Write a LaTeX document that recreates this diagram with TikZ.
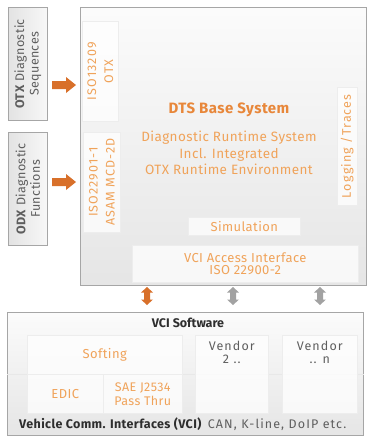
\documentclass[tikz,border=0pt]{standalone}
\usepackage{fontspec}
\setmainfont{Fira Sans}
\newfontfamily\trackfont[LetterSpace=3]{Fira Sans}
\newfontfamily\widefont[LetterSpace=9]{Fira Sans}
\usetikzlibrary{shadows,calc}

\definecolor{softorange}{HTML}{F0A35A}
\definecolor{titleorange}{HTML}{E8873A}
\definecolor{arroworange}{HTML}{D8702A}
\definecolor{arrowgray}{HTML}{A2A2A2}
\definecolor{framegray}{HTML}{A6A6A6}
\definecolor{textgray}{HTML}{5E5E5E}
\definecolor{darktext}{HTML}{2E2E2E}

\tikzset{
  panel/.style={draw=framegray, line width=0.7pt, inner sep=0pt,
    top color=gray!3, bottom color=gray!20,
    drop shadow={shadow xshift=0.8pt, shadow yshift=-1pt, opacity=0.25}},
  sidebox/.style={draw=framegray, line width=0.7pt, inner sep=0pt,
    left color=gray!22, right color=gray!6,
    drop shadow={shadow xshift=0.8pt, shadow yshift=-1pt, opacity=0.25}},
  inset/.style={fill=white, fill opacity=0.75, draw=gray!14, line width=0.5pt,
    inner sep=0pt, text opacity=1},
  orangetext/.style={text=softorange, font=\trackfont\fontsize{13}{15}\selectfont, align=center},
  rottext/.style={text=softorange, rotate=90, align=center, inner sep=0pt},
  sidetext/.style={text=textgray, font=\trackfont\fontsize{12.5}{14.5}\selectfont, align=center},
  vendortext/.style={text=textgray, font=\widefont\fontsize{12.5}{13}\selectfont, align=center},
  hdarrow/.pic={\fill[#1] (-12,-4) -- (2,-4) -- (2,-8) -- (12,0) -- (2,8) -- (2,4) -- (-12,4) -- cycle;},
  vdarrow/.pic={\fill[#1] (0,-9) -- (6,-3.5) -- (3,-3.5) -- (3,3.5) -- (6,3.5) -- (0,9)
     -- (-6,3.5) -- (-3,3.5) -- (-3,-3.5) -- (-6,-3.5) -- cycle;}
}

\begin{document}
\begin{tikzpicture}[x=1pt,y=-1pt]
\useasboundingbox (0,0) rectangle (369,439);

% input description boxes on the left
\node[sidebox, minimum width=39, minimum height=113, anchor=north west] (otx) at (8,7) {};
\node[sidetext, rotate=90] (otxlabel) at (otx.center) {\textbf{OTX} Diagnostic\\Sequences};
\node[sidebox, minimum width=39, minimum height=113, anchor=north west] (odx) at (8,132) {};
\node[sidetext, rotate=90] (odxlabel) at (odx.center) {\textbf{ODX} Diagnostic\\Functions};

% DTS base system
\node[panel, minimum width=286, minimum height=278, anchor=north west] (dts) at (80,7) {};
\node[inset, minimum width=36, minimum height=100, anchor=north west] (otxstd) at (82,21) {};
\node[rottext, font=\widefont\fontsize{12.5}{17}\selectfont] at (otxstd.center) {ISO13209\\OTX};
\node[inset, minimum width=37, minimum height=100, anchor=north west] (mcdstd) at (83,132) {};
\node[rottext, font=\widefont\fontsize{12.5}{17}\selectfont] at (mcdstd.center) {ISO22901-1\\ASAM MCD-2D};
\node[inset, minimum width=20, minimum height=118, anchor=north west] (logging) at (337,87) {};
\node[rottext, font=\widefont\fontsize{12.5}{14}\selectfont] at (logging.center) {Logging /Traces};

\node[text=titleorange, font=\trackfont\bfseries\fontsize{15}{17}\selectfont] (dtstitle) at (229,110) {DTS Base System};
\node[orangetext, font=\trackfont\fontsize{13.5}{16.5}\selectfont] (dtsbody) at (229,153)
  {Diagnostic Runtime System\\Incl. Integrated\\OTX Runtime Environment};

\node[inset, minimum width=112, minimum height=18, anchor=north west] (sim) at (188,217) {};
\node[orangetext] at (sim.center) {Simulation};
\node[inset, minimum width=226, minimum height=37, anchor=north west] (vciapi) at (132,245) {};
\node[orangetext, font=\trackfont\fontsize{13}{11.5}\selectfont] at (vciapi.center) {VCI Access Interface\\ISO 22900-2};

% data flow arrows
\pic at (64,85) {hdarrow=arroworange};
\pic at (64,182) {hdarrow=arroworange};
\pic at (147,296) {vdarrow=arroworange};
\pic at (233,296) {vdarrow=arrowgray};
\pic at (320,296) {vdarrow=arrowgray};

% VCI software and hardware layer
\node[panel, minimum width=356, minimum height=123, anchor=north west] (vci) at (7,312) {};
\draw[gray!18, line width=0.5pt] (vci.west |- 0,374) -- (vci.east |- 0,374);
\node[text=darktext, font=\bfseries\fontsize{12.5}{15}\selectfont] (vcititle) at (188,323) {VCI Software};

\node[inset, minimum width=155, minimum height=39, anchor=north west] (softing) at (27,335) {};
\node[orangetext] at (softing.center) {Softing};
\node[inset, minimum width=76, minimum height=39, anchor=north west] (edic) at (27,374) {};
\node[orangetext] at (edic.center) {EDIC};
\node[inset, minimum width=79, minimum height=39, anchor=north west] (passthru) at (103,374) {};
\node[orangetext, font=\trackfont\fontsize{12.5}{14}\selectfont] at (passthru.center) {SAE J2534\\Pass Thru};

\node[inset, minimum width=73, minimum height=78, anchor=north west] (vendor2) at (195,335) {};
\node[vendortext, anchor=north] at ([yshift=-3pt]vendor2.north) {Vendor\\2 ..};
\node[inset, minimum width=75, minimum height=78, anchor=north west] (vendorn) at (282,335) {};
\node[vendortext, anchor=north] at ([yshift=-3pt]vendorn.north) {Vendor\\.. n};

\node[anchor=west, inner sep=0pt, text=darktext, font=\trackfont\fontsize{12.5}{15}\selectfont] (hwline) at (19,424)
  {\textbf{Vehicle Comm. Interfaces (VCI)}\hspace{6pt}{\widefont\color{textgray}CAN, K-line, DoIP etc.}};
\end{tikzpicture}
\end{document}
